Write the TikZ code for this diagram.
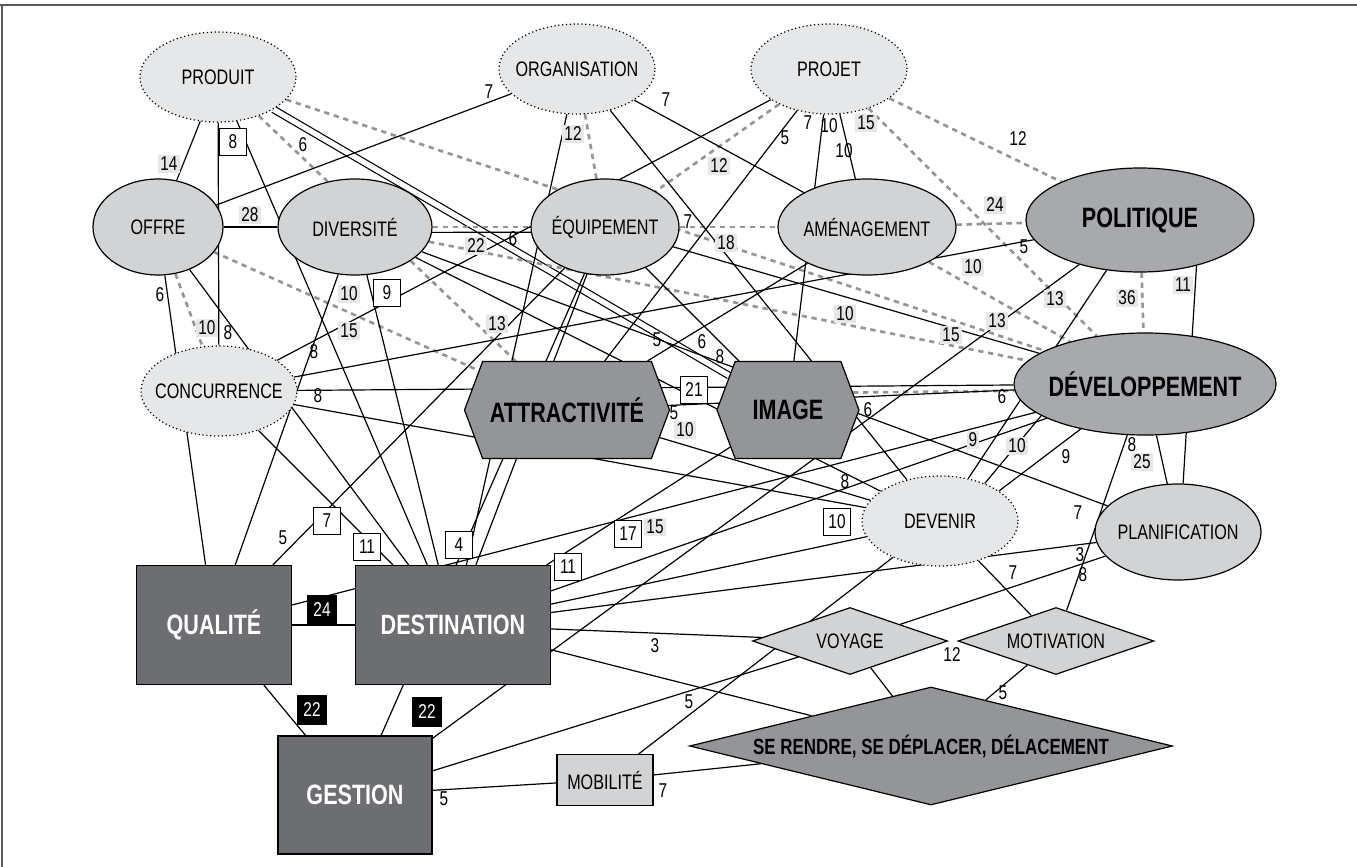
\documentclass[tikz,border=0pt]{standalone}
\usepackage{fontspec}
\setmainfont{Liberation Sans}[FakeStretch=0.77]
\usepackage{tikz}
\usetikzlibrary{shapes.geometric,shapes.symbols,backgrounds}

\definecolor{palegray}{HTML}{E6E7E8}
\definecolor{midgray}{HTML}{D1D3D4}
\definecolor{deepgray}{HTML}{A7A9AC}
\definecolor{hexgray}{HTML}{939598}
\definecolor{boxgray}{HTML}{6D6E71}
\definecolor{rulegray}{HTML}{58595B}

\tikzset{
  nowidth/.style={execute at begin node={\hbox to 0pt\bgroup\hss},
                  execute at end node={\hss\egroup}},
  base/.style={draw, line width=0.9pt, inner sep=0pt, nowidth,
               font=\fontsize{15.75}{18}\selectfont},
  heavy/.style={font=\fontsize{21}{24}\selectfont\bfseries},
  faint/.style={base, ellipse, fill=palegray, dotted,
                minimum width=117pt, minimum height=67.5pt},
  plainell/.style={base, ellipse, fill=midgray, minimum height=72pt},
  strongell/.style={base, heavy, ellipse, fill=deepgray},
  hexnode/.style={base, heavy, signal, signal to=east and west,
                  signal pointer angle=139, fill=hexgray, minimum height=72.75pt},
  darkbox/.style={base, heavy, rectangle, fill=boxgray, text=white},
  lozenge/.style={base, diamond, fill=midgray, minimum height=50.25pt},
  link/.style={line width=0.9pt},
  dotlink/.style={hexgray, line width=2pt, dash pattern=on 4pt off 3.5pt},
  num/.style={inner sep=1pt, font=\fontsize{15}{16}\selectfont},
  numgray/.style={num, fill=palegray, inner sep=1.5pt},
  numbox/.style={num, draw, fill=white, line width=0.8pt, inner sep=0pt,
                 minimum width=20pt, minimum height=20pt},
  numblack/.style={num, fill=black, text=white, inner sep=0pt,
                   minimum width=22.5pt, minimum height=22.5pt}
}

\begin{document}
\begin{tikzpicture}[x=0.75pt,y=0.75pt,yscale=-1,xscale=1]
\useasboundingbox (0,0) rectangle (1357,867);
%Frame
\draw[rulegray, line width=1.5pt] (0,5) -- (1357,5);
\draw[rulegray, line width=1.5pt] (2,5) -- (2,867);

% Concept nodes
\node[faint] (produit) at (218,77) {PRODUIT};
\node[faint] (organisation) at (577,69) {ORGANISATION};
\node[faint] (projet) at (829,69) {PROJET};
\node[plainell, minimum width=97.5pt] (offre) at (158,227) {OFFRE};
\node[plainell, minimum width=115.5pt] (diversite) at (355,227) {DIVERSITÉ};
\node[plainell, minimum width=111pt] (equipement) at (605,227) {ÉQUIPEMENT};
\node[plainell, minimum width=133.5pt] (amenagement) at (867,227) {AMÉNAGEMENT};
\node[strongell, minimum width=171pt, minimum height=78pt] (politique) at (1140,220) {POLITIQUE};
\node[faint] (concurrence) at (219,391) {CONCURRENCE};
\node[hexnode, minimum width=153.75pt] (attract) at (567,410) {ATTRACTIVITÉ};
\node[hexnode, minimum width=106.5pt] (image) at (788,410) {IMAGE};
\node[strongell, minimum width=196.5pt, minimum height=76.5pt] (develop) at (1145,384) {DÉVELOPPEMENT};
\node[faint] (devenir) at (940,521) {DEVENIR};
\node[plainell, minimum width=124.5pt] (planif) at (1178,532) {PLANIFICATION};
\node[darkbox, minimum width=116.25pt, minimum height=89.25pt] (qualite) at (214,625) {QUALITÉ};
\node[darkbox, minimum width=146.25pt, minimum height=89.25pt] (destination) at (453,625) {DESTINATION};
\node[darkbox, minimum width=115.5pt, minimum height=88.5pt] (gestion) at (355,795) {GESTION};
\node[base, rectangle, fill=midgray, minimum width=72pt, minimum height=38.25pt] (mobilite) at (605,780) {MOBILITÉ};
\node[lozenge, minimum width=146.25pt] (voyage) at (850,641) {VOYAGE};
\node[lozenge, minimum width=147pt] (motivation) at (1056,641) {MOTIVATION};
\node[base, diamond, fill=hexgray, minimum width=362.25pt, minimum height=88.5pt,
      font=\fontsize{16.5}{18}\selectfont\bfseries] (deplacer) at (931,746) {SE RENDRE, SE DÉPLACER, DÉLACEMENT};

\begin{pgfonlayer}{background}
%Double Lines
\draw[link, double, double distance=4pt] (produit) -- (image);
%Dotted Lines
\draw[dotlink] (produit) -- (attract);
\draw[dotlink] (produit) -- (develop);
\draw[dotlink] (organisation) -- (equipement);
\draw[dotlink] (projet) -- (equipement);
\draw[dotlink] (projet) -- (politique);
\draw[dotlink] (projet) -- (develop);
\draw[dotlink] (offre) -- (concurrence);
\draw[dotlink] (offre) -- (attract);
\draw[dotlink] (diversite) -- (equipement);
\draw[dotlink] (diversite) -- (develop);
\draw[dotlink] (equipement) -- (amenagement);
\draw[dotlink] (amenagement) -- (politique);
\draw[dotlink] (amenagement) -- (develop);
\draw[dotlink] (politique) -- (develop);
\draw[dotlink] (image.15) -- (develop.183);
%Straight Lines
\draw[link] (produit) -- (offre);
\draw[link] (produit) -- (concurrence);
\draw[link] (produit) -- (destination);
\draw[link] (organisation) -- (offre);
\draw[link] (organisation) -- (destination);
\draw[link] (organisation) -- (devenir);
\draw[link] (organisation) -- (amenagement);
\draw[link] (projet) -- (concurrence);
\draw[link] (projet) -- (attract);
\draw[link] (projet) -- (image);
\draw[link] (projet) -- (amenagement);
\draw[link] (offre) -- (diversite);
\draw[link] (offre) -- (qualite);
\draw[link] (offre) -- (destination);
\draw[link] (diversite.-4) -- (equipement.184);
\draw[link] (diversite) -- (qualite);
\draw[link] (diversite) -- (destination);
\draw[link] (diversite) -- (planif);
\draw[link] (diversite) -- (devenir);
\draw[link] (equipement) -- (image);
\draw[link] (equipement) -- (develop);
\draw[link] (equipement) -- (qualite);
\draw[link] (equipement) -- (gestion);
\draw[link] (equipement) -- (destination);
\draw[link] (amenagement) -- (attract);
\draw[link] (politique) -- (concurrence);
\draw[link] (politique) -- (gestion);
\draw[link] (politique) -- (devenir);
\draw[link] (politique.-39) -- (planif.84);
\draw[link] (concurrence) -- (develop);
\draw[link] (concurrence) -- (destination);
\draw[link] (concurrence) -- (devenir);
\draw[link] (attract) -- (develop);
\draw[link] (attract) -- (devenir);
\draw[link] (develop) -- (qualite);
\draw[link] (develop) -- (destination);
\draw[link] (develop.215) -- (devenir.27);
\draw[link] (develop.197) -- (devenir.40);
\draw[link] (develop) -- (planif);
\draw[link] (develop) -- (motivation);
\draw[link] (destination) -- (image);
\draw[link] (destination) -- (devenir);
\draw[link] (destination) -- (planif);
\draw[link] (destination) -- (voyage);
\draw[link] (destination) -- (deplacer);
\draw[link] (destination) -- (qualite);
\draw[link] (qualite) -- (gestion);
\draw[link] (gestion) -- (voyage);
\draw[link] (gestion) -- (mobilite);
\draw[link] (devenir) -- (mobilite);
\draw[link] (devenir) -- (motivation);
\draw[link] (voyage) -- (planif);
\draw[link] (voyage) -- (deplacer);
\draw[link] (motivation) -- (deplacer);
\draw[link] (mobilite) -- (deplacer);
\end{pgfonlayer}

% Text Node
\node[num] (t1) at (489,92) {7};
\node[num] (t2) at (666,100) {7};
\node[num] (t3) at (785,138) {5};
\node[num] (t4) at (808,123) {7};
\node[num] (t5) at (829,126) {10};
\node[num] (t6) at (844,151) {10};
\node[num] (t7) at (1018,139) {12};
\node[num] (t8) at (1024,247) {5};
\node[num] (t9) at (303,145) {6};
\node[num] (t10) at (160,295) {6};
\node[num] (t11) at (228,333) {8};
\node[num] (t12) at (314,352) {8};
\node[num] (t13) at (318,396) {8};
\node[num] (t14) at (283,538) {5};
\node[num] (t15) at (513,239) {6};
\node[num] (t16) at (688,222) {7};
\node[num] (t17) at (657,340) {5};
\node[num] (t18) at (702,342) {6};
\node[num] (t19) at (720,357) {8};
\node[num] (t20) at (674,413) {5};
\node[num] (t21) at (868,410) {6};
\node[num] (t22) at (1002,397) {6};
\node[num] (t23) at (845,482) {8};
\node[num] (t24) at (1066,457) {9};
\node[num] (t25) at (1132,445) {8};
\node[num] (t26) at (1078,513) {7};
\node[num] (t27) at (1080,555) {3};
\node[num] (t28) at (1083,575) {8};
\node[num] (t29) at (1013,573) {7};
\node[num] (t30) at (952,655) {12};
\node[num] (t31) at (1003,693) {5};
\node[num] (t32) at (655,646) {3};
\node[num] (t33) at (689,702) {5};
\node[num] (t34) at (663,791) {7};
\node[num] (t35) at (444,799) {5};
% Text Node, shaded
\node[numgray] (g1) at (169,164) {14};
\node[numgray] (g2) at (250,215) {28};
\node[numgray] (g3) at (207,328) {10};
\node[numgray] (g4) at (349,294) {10};
\node[numgray] (g5) at (349,331) {15};
\node[numgray] (g6) at (476,246) {22};
\node[numgray] (g7) at (497,324) {13};
\node[numgray] (g8) at (573,134) {12};
\node[numgray] (g9) at (719,166) {12};
\node[numgray] (g10) at (726,243) {18};
\node[numgray] (g11) at (866,123) {15};
\node[numgray] (g12) at (995,205) {24};
\node[numgray] (g13) at (973,267) {10};
\node[numgray] (g14) at (845,314) {10};
\node[numgray] (g15) at (951,335) {15};
\node[numgray] (g16) at (997,321) {13};
\node[numgray] (g17) at (1055,299) {13};
\node[numgray] (g18) at (1127,298) {36};
\node[numgray] (g19) at (1183,285) {11};
\node[numgray] (g20) at (973,440) {9};
\node[numgray] (g21) at (1017,446) {10};
\node[numgray] (g22) at (1142,462) {25};
\node[numgray] (g23) at (685,430) {10};
\node[numgray] (g24) at (655,527) {15};
% Text Node, boxed
\node[numbox] (b1) at (233,142) {8};
\node[numbox] (b2) at (387,293) {9};
\node[numbox] (b3) at (327,521) {7};
\node[numbox] (b4) at (367,547) {11};
\node[numbox] (b5) at (459,545) {4};
\node[numbox] (b6) at (568,567) {11};
\node[numbox] (b7) at (628,534) {17};
\node[numbox] (b8) at (694,390) {21};
\node[numbox] (b9) at (837,522) {10};
% Text Node, black
\node[numblack] (k1) at (322,610) {24};
\node[numblack] (k2) at (312,710) {22};
\node[numblack] (k3) at (427,712) {22};
\end{tikzpicture}
\end{document}
